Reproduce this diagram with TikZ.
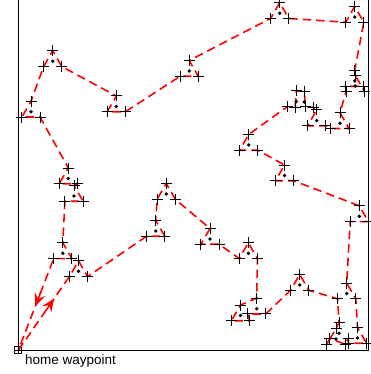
\documentclass[tikz,border=0pt]{standalone}
\usepackage{fontspec}
\setmainfont{Liberation Sans}
\usetikzlibrary{calc,arrows.meta}

\tikzset{
  tour/.style={red, line width=1.6pt, dash pattern=on 8.5pt off 5pt, line join=round},
  cross/.style={black, line width=1pt},
  target/.style={circle, fill=black, inner sep=0pt, minimum size=3.8pt},
  axisline/.style={black, line width=1pt},
  headtip/.style={red, line width=1.6pt, -{Stealth[length=13pt,width=11pt,inset=5pt]}},
  homebox/.style={draw, black, line width=0.9pt, minimum size=7pt, inner sep=0pt},
}

% a target point with its three viewing positions around it
\newcommand\wpt[3]{%
  \coordinate (#1-c) at (#2,#3);
  \coordinate (#1-t) at ($(#1-c)+(0,-10.5)$);
  \coordinate (#1-l) at ($(#1-c)+(-9.1,5.25)$);
  \coordinate (#1-r) at ($(#1-c)+(9.1,5.25)$);
}
% plus-shaped marker
\newcommand\plusmark[1]{%
  \draw[cross] ($(#1)+(-5.5,0)$) -- ($(#1)+(5.5,0)$) ($(#1)+(0,-5.5)$) -- ($(#1)+(0,5.5)$);
}

\begin{document}
\begin{tikzpicture}[x=1pt,y=-1pt]
\useasboundingbox (0,0) rectangle (370,374);

% axes frame
\draw[axisline] (18.3,0) -- (18.3,350.3) -- (368.7,350.3) -- (368.7,0);

\wpt{O}{78.5}{271.3}
\wpt{N}{62.8}{253.3}
\wpt{P}{155.7}{231}
\wpt{Q}{166.2}{194}
\wpt{R}{210}{239}
\wpt{S}{248.3}{253.3}
\wpt{W}{256.7}{308.7}
\wpt{X}{240.5}{315.5}
\wpt{U}{299.7}{285}
\wpt{V}{346.7}{293.5}
\wpt{Ya}{339}{333.3}
\wpt{Yb}{336}{339}
\wpt{Yc}{357.5}{338}
\wpt{T}{359.3}{216.3}
\wpt{M}{284.5}{175.5}
\wpt{L}{248.7}{145}
\wpt{Ia}{296.3}{101.5}
\wpt{Ib}{304.3}{102}
\wpt{J}{316.7}{120.5}
\wpt{K}{340}{123.3}
\wpt{Ha}{354.7}{81}
\wpt{Hb}{355.3}{86}
\wpt{G}{354.7}{17}
\wpt{F}{279.7}{13.2}
\wpt{E}{189.2}{71}
\wpt{C}{116.3}{106.5}
\wpt{A}{52.7}{61.3}
\wpt{B}{31}{111.8}
\wpt{Da}{68.3}{178.5}
\wpt{Db}{74}{196}

\node[homebox] (home) at (18.3,350.3) {};

% the planned tour
\draw[tour] (home.center) -- (O-l) -- (O-t) -- (O-r) -- (P-l) -- (P-r) -- (P-t)
  -- (Q-l) -- (Q-t) -- (Q-r) -- (R-t) -- (R-l) -- (R-r) -- (S-l) -- (S-t) -- (S-r)
  -- (W-t) -- (X-t) -- (X-l) -- (X-r) -- (W-l) -- (W-r) -- (U-l) -- (U-t) -- (U-r)
  -- (V-l) -- (Ya-t) -- (Yb-t) -- (Yb-l) -- (Ya-l) -- (Yb-r) -- (Ya-r) -- (Yc-l)
  -- (Yc-r) -- (Yc-t) -- (V-r) -- (V-t) -- (T-l) -- (T-r) -- (T-t) -- (M-r) -- (M-l)
  -- (M-t) -- (L-r) -- (L-l) -- (L-t) -- (Ia-l) -- (Ib-l) -- (Ia-t) -- (Ib-t) -- (Ia-r)
  -- (Ib-r) -- (J-t) -- (J-l) -- (J-r) -- (K-l) -- (K-r) -- (K-t) -- (Hb-l) -- (Ha-l)
  -- (Ha-r) -- (Hb-r) -- (Hb-t) -- (Ha-t) -- (G-r) -- (G-t) -- (G-l) -- (F-r) -- (F-t)
  -- (F-l) -- (E-t) -- (E-r) -- (E-l) -- (C-r) -- (C-l) -- (C-t) -- (A-r) -- (A-t)
  -- (A-l) -- (B-t) -- (B-l) -- (B-r) -- (Da-t) -- (Da-l) -- (Da-r) -- (Db-t) -- (Db-r)
  -- (Db-l) -- (N-t) -- (N-r) -- (N-l) -- (home.center);

% direction arrows on the first and last legs
\draw[headtip] ($(home.center)!0.54!(O-l)$) -- ($(home.center)!0.70!(O-l)$);
\draw[headtip] ($(N-l)!0.36!(home.center)$) -- ($(N-l)!0.52!(home.center)$);

% markers and targets
\foreach \n in {O,N,P,Q,R,S,W,X,U,V,Ya,Yb,Yc,T,M,L,Ia,Ib,J,K,Ha,Hb,G,F,E,C,A,B,Da,Db}{
  \plusmark{\n-t}\plusmark{\n-l}\plusmark{\n-r}
  \node[target] (\n) at (\n-c) {};
}

\draw[cross] (home.north) -- (home.south) (home.west) -- (home.east);
\node[anchor=base west, inner sep=0pt, font=\fontsize{13.5}{15}\selectfont] (homelabel)
  at (25,364) {home waypoint};
\end{tikzpicture}
\end{document}
